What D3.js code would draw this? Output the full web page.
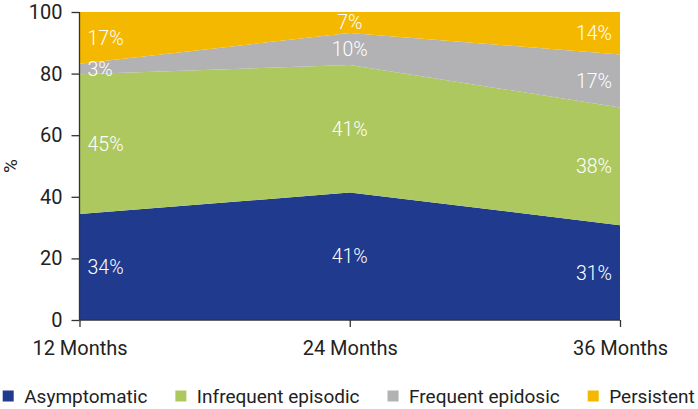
<!DOCTYPE html>
<html><head><meta charset="utf-8">
<script src="https://cdn.jsdelivr.net/npm/d3@7"></script>
<style>body{margin:0;background:#fff;}svg{display:block;font-family:Roboto,"Noto Sans",sans-serif;}</style>
</head><body>
<svg id="c" width="698" height="409"></svg>
<script>
const categories = ["12 Months", "24 Months", "36 Months"];
const seriesNames = ["Asymptomatic", "Infrequent episodic", "Frequent epidosic", "Persistent"];
const asymptomatic = [34.4, 41.4, 30.8];
const infrequent = [45.4, 41.4, 38.2];
const frequent = [3.4, 10.4, 17.2];
const persistent = [16.8, 6.8, 13.8];
const yTicks = [0, 20, 40, 60, 80, 100];
const colors = ["#203a8e", "#adc85f", "#b2b1b3", "#f5b800"];

(function () {
const seriesValues = [asymptomatic, infrequent, frequent, persistent];
const rows = categories.map((c, i) => {
  const r = {cat: c};
  seriesNames.forEach((s, j) => r[s] = seriesValues[j][i]);
  return r;
});
const stacked = d3.stack().keys(seriesNames)(rows);

const svg = d3.select("#c");
const pl = 79.5, pr = 620, pt = 12, pb = 320;
const x = d3.scalePoint().domain(categories).range([pl, pr]);
const y = d3.scaleLinear().domain([0, 100]).range([pb, pt]);

const area = d3.area().x(d => x(d.data.cat)).y0(d => y(d[0])).y1(d => y(d[1]));
svg.append("g").selectAll("path").data(stacked).join("path")
  .attr("d", area).attr("fill", (d, i) => colors[i]);

// labels
const g = svg.append("g").attr("fill", "#fff").style("font-size", "19.5px").style("font-weight", 300);
stacked.forEach(layer => {
  layer.forEach((d, i) => {
    const anchor = i === 0 ? "start" : (i === categories.length - 1 ? "end" : "middle");
    const dx = i === 0 ? 8 : (i === categories.length - 1 ? -8 : 0);
    g.append("text")
      .attr("x", x(d.data.cat) + dx)
      .attr("y", (y(d[0]) + y(d[1])) / 2)
      .attr("dy", "0.36em")
      .attr("text-anchor", anchor)
      .text(Math.round(d[1] - d[0]) + "%");
  });
});

// axes
const yAxis = svg.append("g").attr("transform", `translate(${pl},0)`)
  .call(d3.axisLeft(y).tickValues(yTicks).tickSize(8).tickPadding(9));
const xAxis = svg.append("g").attr("transform", `translate(0,${pb})`)
  .call(d3.axisBottom(x).tickSize(7).tickPadding(14));
[yAxis, xAxis].forEach(a => {
  a.select(".domain").attr("stroke", "#333").attr("stroke-width", 1.3);
  a.selectAll(".tick line").attr("stroke", "#333").attr("stroke-width", 1.3);
  a.selectAll("text").attr("fill", "#222").style("font-size", "20px").style("font-family", "Roboto, sans-serif");
});
xAxis.select(".domain").attr("d", `M${pl},0H${pr}`);
yAxis.select(".domain").attr("d", `M0,${pt}V${pb}`);

svg.append("text").attr("transform", "translate(17,166) rotate(-90)")
  .attr("text-anchor", "middle").attr("fill", "#222").style("font-size", "19px").text("%");

// legend
const leg = svg.append("g").attr("transform", "translate(2.7,396)");
let lx = 0;
seriesNames.forEach((s, i) => {
  const it = leg.append("g").attr("transform", `translate(${lx},0)`);
  it.append("rect").attr("x", 0).attr("y", -5.5).attr("width", 11).attr("height", 11).attr("fill", colors[i]);
  const t = it.append("text").attr("x", 21.5).attr("dy", "0.36em").attr("fill", "#222")
    .style("font-size", "19px").text(s);
  lx += 21.5 + t.node().getComputedTextLength() + 28;
});
})();
</script>
</body></html>
